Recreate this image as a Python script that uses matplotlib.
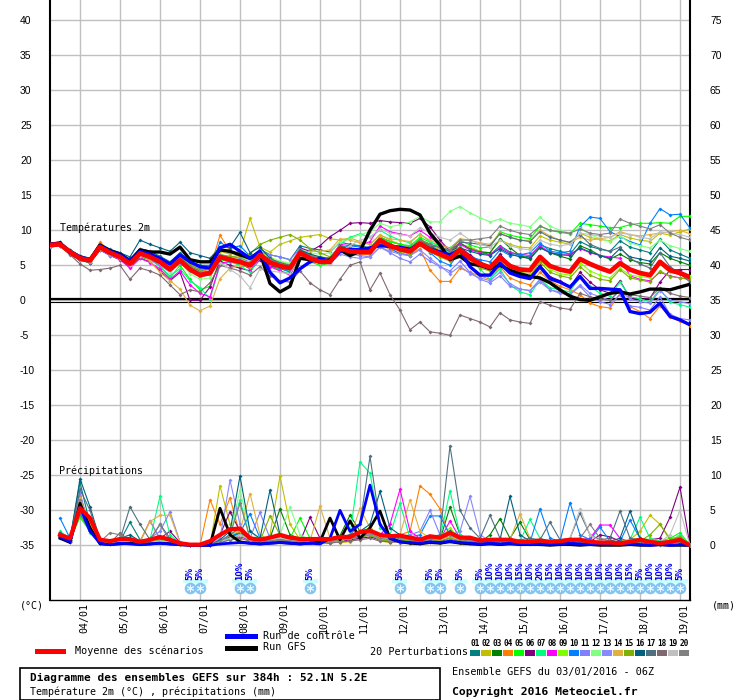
import matplotlib
matplotlib.use('Agg')
import matplotlib.pyplot as plt
from matplotlib.patches import Rectangle
from matplotlib.transforms import ScaledTranslation

W, H = 740, 700
MONO = 'DejaVu Sans Mono'

# ---------------- time axes ----------------
hours_t = list(range(0, 385, 6))      # temperature steps (h after 03/01 06Z)
hours_p = list(range(6, 385, 6))      # precipitation steps
day_hours = [18 + 24 * k for k in range(16)]
day_labels = ['04/01', '05/01', '06/01', '07/01', '08/01', '09/01', '10/01', '11/01',
              '12/01', '13/01', '14/01', '15/01', '16/01', '17/01', '18/01', '19/01']

left_ticks = [-35, -30, -25, -20, -15, -10, -5, 0, 5, 10, 15, 20, 25, 30, 35, 40]
right_labels = ['0', '5', '10', '15', '20', '25', '30', '35', '40', '45', '50', '55', '60', '65', '70', '75']
precip_offset = -35

member_colors = ['#008080', '#c0c000', '#008000', '#ff8000', '#00ff00', '#800080', '#00ff80',
                 '#ff00ff', '#80ff00', '#0080ff', '#8080ff', '#80ff80', '#8888ff', '#e0b040',
                 '#80b000', '#006080', '#507080', '#806870', '#c0c0c0', '#808080']

# ---------------- temperature (°C) ----------------
temp_mean = [7.9, 8.0, 6.9, 6.0, 5.7, 7.6, 6.8, 6.2,
             5.2, 6.7, 6.2, 5.5, 4.4, 5.7, 4.4, 3.6,
             3.9, 6.2, 5.8, 5.5, 5.0, 6.5, 5.4, 4.9,
             4.6, 6.8, 6.0, 5.5, 5.5, 7.4, 7.0, 6.9,
             6.9, 8.6, 7.8, 7.3, 7.0, 8.1, 7.2, 6.6,
             6.0, 7.2, 6.0, 5.2, 4.7, 6.1, 4.9, 4.4,
             4.3, 6.2, 4.9, 4.4, 4.1, 5.9, 5.2, 4.6,
             4.1, 5.3, 4.4, 3.9, 3.6, 5.5, 4.3, 3.9, 3.3]
temp_control = [8.0, 8.1, 7.0, 6.2, 5.8, 7.8, 7.0, 6.5,
                5.6, 7.0, 6.6, 6.0, 5.2, 6.5, 5.5, 4.8,
                4.6, 7.5, 8.0, 7.0, 6.0, 7.0, 4.0, 2.5,
                3.2, 4.5, 5.5, 6.0, 5.5, 7.0, 7.3, 7.2,
                7.5, 7.8, 7.7, 7.6, 7.3, 8.1, 7.3, 6.9,
                6.5, 7.2, 4.8, 3.6, 3.6, 5.3, 3.9, 3.4,
                3.1, 4.8, 3.1, 2.6, 1.9, 3.4, 1.7, 1.7,
                1.6, 1.5, -1.6, -1.9, -1.7, -0.4, -2.3, -2.8, -3.5]
temp_gfs = [8.0, 8.2, 6.8, 6.0, 5.8, 7.9, 7.1, 6.6,
            5.6, 7.2, 6.9, 6.9, 6.6, 7.6, 5.8, 5.5,
            5.5, 7.2, 7.0, 6.5, 6.0, 6.8, 2.4, 1.2,
            2.0, 6.0, 5.8, 5.5, 5.8, 7.2, 6.4, 7.0,
            10.0, 12.3, 12.8, 13.0, 12.9, 12.2, 9.6, 7.9,
            5.8, 6.3, 5.2, 5.0, 4.5, 5.0, 4.3, 3.8,
            3.4, 3.2, 2.5, 1.5, 0.6, 0.1, 0.0, 0.5,
            1.0, 1.2, 0.9, 1.2, 1.6, 1.6, 1.5, 1.9, 2.3]

temp_m01 = [8.2, 8.3, 7.2, 6.3, 6.0, 8.0, 7.3, 6.8, 5.9, 7.4, 7.0, 6.3, 5.5, 6.8, 5.6, 5.0,
            5.0, 7.2, 6.8, 6.9, 6.0, 7.3, 6.5, 6.2, 5.8, 7.8, 7.4, 7.2, 6.9, 8.3, 8.0, 7.8,
            7.5, 9.0, 8.4, 8.0, 7.6, 8.7, 8.0, 7.5, 7.0, 8.1, 7.5, 7.0, 6.5, 7.8, 6.9, 6.4,
            6.2, 7.9, 7.4, 7.0, 6.6, 8.4, 7.7, 7.3, 7.0, 8.5, 7.6, 7.2, 6.8, 8.7, 7.2, 6.6, 6.0]
temp_m02 = [7.8, 8.0, 7.0, 6.1, 5.6, 7.9, 7.0, 6.4, 5.4, 6.9, 6.5, 5.9, 5.0, 6.4, 5.2, 4.6,
            4.8, 7.0, 6.6, 6.9, 11.7, 7.6, 6.9, 8.0, 8.5, 9.0, 9.2, 9.4, 8.8, 8.6, 8.9, 8.4,
            8.0, 9.4, 8.6, 8.0, 7.5, 8.8, 7.9, 7.2, 6.8, 8.0, 7.6, 7.0, 6.8, 8.6, 8.0, 7.6,
            7.5, 9.2, 8.6, 8.3, 8.0, 9.6, 9.0, 8.7, 8.5, 9.4, 8.9, 8.6, 8.4, 9.6, 9.3, 9.8, 10.2]
temp_m03 = [7.7, 7.9, 6.6, 5.8, 5.4, 7.2, 6.5, 6.0, 5.0, 6.2, 5.8, 5.2, 4.6, 5.9, 4.8, 4.2,
            4.6, 6.0, 5.6, 5.0, 4.7, 6.3, 5.2, 4.5, 4.2, 6.6, 5.8, 5.5, 5.6, 7.9, 7.3, 7.2,
            7.4, 8.8, 8.0, 7.6, 7.4, 8.6, 7.8, 7.0, 6.5, 8.2, 7.3, 6.9, 6.8, 8.8, 7.5, 6.4,
            5.9, 7.6, 6.8, 6.3, 5.9, 7.8, 7.2, 6.4, 5.9, 6.6, 5.8, 5.4, 5.2, 6.8, 6.0, 5.5, 5.0]
temp_m04 = [8.1, 8.2, 7.0, 6.2, 5.9, 8.3, 7.0, 6.2, 5.1, 7.3, 7.0, 6.0, 4.6, 6.5, 4.8, 4.0,
            4.5, 9.3, 7.0, 6.2, 5.3, 7.0, 6.0, 5.4, 5.0, 6.8, 6.4, 6.0, 5.8, 7.2, 6.9, 6.6,
            6.5, 8.2, 7.2, 6.8, 6.4, 7.4, 4.3, 2.7, 2.7, 4.6, 4.0, 3.5, 3.0, 4.8, 3.2, 2.6,
            2.2, 4.0, 2.8, 2.0, 1.5, 0.8, -0.4, -0.9, -1.1, 1.0, -0.9, -1.6, -2.6, -0.8, -2.4, -3.0, -3.6]
temp_m05 = [8.0, 7.9, 6.7, 5.8, 5.3, 7.4, 6.6, 5.9, 4.8, 6.3, 5.8, 4.9, 3.2, 5.0, 3.0, 1.5,
            2.0, 5.8, 5.5, 5.3, 4.5, 6.0, 5.0, 4.2, 3.8, 6.4, 5.5, 5.0, 5.3, 7.0, 6.8, 6.8,
            7.2, 9.0, 8.4, 8.0, 7.8, 9.0, 8.3, 7.8, 7.5, 8.6, 7.9, 7.5, 7.6, 9.8, 9.3, 9.0,
            8.8, 10.6, 10.0, 9.7, 9.5, 11.0, 10.8, 10.6, 10.4, 10.4, 10.8, 11.0, 11.0, 11.1, 11.0, 12.0, 12.0]
temp_m06 = [7.6, 7.8, 6.6, 5.7, 5.4, 7.2, 6.4, 5.8, 4.8, 6.0, 5.5, 4.2, 2.8, 4.0, 0.0, 0.0,
            1.9, 5.6, 5.0, 4.6, 4.2, 5.8, 5.0, 4.5, 4.4, 7.5, 7.0, 7.8, 9.1, 10.0, 11.0, 11.1,
            11.0, 11.4, 11.2, 11.1, 11.0, 11.7, 10.5, 8.6, 7.0, 7.6, 6.5, 5.5, 4.8, 6.6, 5.0, 4.0,
            3.4, 5.0, 3.4, 2.8, 1.9, 4.0, 2.6, 1.5, 1.0, 2.8, 0.3, 0.1, 0.3, 2.6, 4.3, 4.4, 4.4]
temp_m07 = [7.9, 8.1, 6.8, 5.9, 5.5, 7.5, 6.6, 6.0, 4.9, 6.4, 5.9, 4.8, 3.5, 4.5, 2.8, 1.8,
            0.2, 5.0, 5.5, 5.0, 4.0, 6.0, 5.2, 4.5, 4.2, 6.6, 5.8, 5.2, 5.8, 8.0, 9.0, 9.5,
            9.0, 10.0, 9.2, 8.6, 8.2, 9.5, 8.4, 7.6, 6.8, 7.6, 6.0, 4.5, 3.0, 4.5, 2.2, 1.2,
            0.8, 3.0, 1.8, 1.5, 1.2, 3.5, 2.0, 1.0, 0.6, 2.6, 0.5, 0.2, -0.2, 1.6, -0.3, -0.6, -1.0]
temp_m08 = [7.8, 8.0, 6.9, 6.0, 5.6, 7.3, 6.5, 5.8, 4.6, 6.0, 5.4, 4.5, 3.0, 4.2, 2.2, 1.0,
            0.5, 5.2, 5.6, 5.3, 4.5, 6.0, 4.8, 4.2, 3.6, 6.2, 6.0, 5.8, 6.0, 8.0, 7.8, 7.8,
            8.4, 10.6, 9.8, 9.5, 9.2, 10.0, 9.0, 8.0, 7.4, 8.0, 7.2, 6.8, 6.5, 7.6, 6.8, 6.6,
            6.4, 7.8, 6.8, 6.6, 6.6, 7.4, 6.8, 6.4, 6.2, 6.0, 3.5, 3.0, 2.8, 4.0, 3.5, 3.2, 3.0]
temp_m09 = [7.9, 8.0, 6.8, 6.0, 5.7, 7.8, 7.0, 6.4, 5.4, 6.6, 6.0, 5.4, 4.2, 5.8, 4.5, 3.8,
            4.0, 6.6, 6.2, 6.0, 5.8, 7.0, 6.2, 5.5, 5.2, 7.0, 6.6, 6.2, 6.0, 7.8, 7.2, 7.0,
            7.0, 8.6, 7.8, 7.4, 7.0, 8.4, 7.4, 6.8, 6.2, 7.4, 6.0, 5.2, 4.6, 6.2, 4.6, 4.0,
            3.8, 5.8, 4.4, 3.8, 3.6, 5.4, 4.2, 3.6, 3.2, 4.6, 3.6, 3.4, 3.2, 5.2, 4.0, 3.7, 3.5]
temp_m10 = [8.0, 8.2, 7.1, 6.2, 6.0, 7.8, 7.0, 6.6, 5.6, 7.2, 6.8, 6.0, 5.0, 6.4, 5.4, 4.8,
            4.5, 8.3, 7.4, 7.8, 6.3, 6.8, 5.7, 4.6, 4.0, 7.2, 6.4, 5.8, 5.6, 7.4, 7.8, 7.6,
            7.4, 8.4, 7.5, 6.6, 6.4, 8.0, 6.8, 5.6, 5.0, 7.0, 6.2, 5.8, 5.5, 7.2, 6.4, 6.5,
            6.8, 8.2, 7.0, 6.8, 7.0, 10.5, 11.9, 11.7, 9.8, 9.1, 8.4, 7.9, 11.0, 13.1, 12.2, 12.3, 10.3]
temp_m11 = [7.7, 7.9, 6.7, 5.8, 5.6, 7.2, 6.4, 5.9, 5.0, 6.4, 5.8, 5.0, 4.0, 5.4, 4.2, 3.4,
            3.6, 6.5, 6.3, 6.0, 5.5, 6.9, 6.5, 6.2, 5.8, 7.4, 6.5, 6.0, 5.8, 7.0, 6.6, 6.4,
            6.2, 7.6, 6.8, 6.0, 5.5, 6.6, 5.6, 4.8, 4.2, 5.6, 4.0, 3.0, 2.5, 3.5, 2.0, 1.6,
            1.4, 3.0, 1.5, 1.0, 0.8, 2.0, 0.5, -0.2, -0.6, 0.8, -0.8, -1.0, -1.4, 0.5, -2.0, -2.6, -2.8]
temp_m12 = [7.8, 8.0, 6.8, 5.9, 5.5, 7.4, 6.6, 6.0, 5.0, 6.4, 6.0, 5.3, 4.0, 5.5, 3.8, 3.0,
            3.2, 6.2, 6.0, 5.8, 5.4, 6.8, 6.0, 5.6, 5.3, 7.2, 6.8, 6.6, 6.8, 8.4, 8.8, 9.4,
            9.8, 11.0, 10.5, 10.8, 11.2, 12.0, 11.2, 11.2, 12.7, 13.4, 12.5, 11.8, 11.2, 11.6, 11.0, 10.8,
            10.5, 11.9, 10.6, 10.0, 9.6, 10.4, 9.4, 8.8, 8.4, 9.2, 8.2, 7.8, 7.5, 8.6, 7.8, 7.4, 7.0]
temp_m13 = [7.6, 7.8, 6.6, 5.8, 5.5, 7.5, 6.8, 6.0, 5.2, 6.6, 6.0, 5.6, 4.8, 6.2, 5.0, 4.4,
            4.6, 6.2, 5.8, 5.4, 5.0, 6.6, 5.6, 5.0, 4.5, 6.8, 6.0, 5.4, 5.2, 6.6, 6.2, 6.0,
            6.2, 7.6, 7.0, 6.6, 6.4, 7.2, 6.0, 4.9, 3.8, 4.9, 3.8, 3.2, 2.8, 4.0, 2.4, 1.6,
            1.4, 2.6, 1.5, 1.2, 0.9, 2.2, 1.0, 0.5, 0.0, 1.4, 0.2, -0.2, -0.4, 1.4, 0.0, -0.2, -0.5]
temp_m14 = [7.9, 8.0, 6.8, 5.9, 5.6, 7.8, 6.8, 6.0, 5.0, 6.6, 5.6, 4.0, 2.8, 1.6, -0.7, -1.5,
            -0.8, 3.1, 4.6, 5.0, 4.8, 6.4, 5.6, 5.0, 4.8, 6.9, 7.0, 7.0, 7.2, 8.8, 8.6, 8.2,
            8.0, 9.2, 8.8, 8.6, 8.4, 9.4, 8.6, 8.0, 7.4, 8.8, 8.6, 8.2, 8.0, 9.6, 9.0, 8.6,
            8.5, 10.0, 9.2, 8.6, 8.2, 9.0, 8.6, 8.8, 9.0, 9.8, 9.4, 9.2, 9.4, 9.6, 9.8, 10.0, 9.5]
temp_m15 = [8.0, 8.1, 7.0, 6.2, 5.8, 7.7, 6.9, 6.3, 5.3, 6.9, 6.4, 5.8, 4.8, 6.2, 5.0, 4.4,
            4.6, 6.4, 6.2, 6.4, 6.6, 8.0, 8.6, 9.0, 9.4, 8.6, 7.4, 6.8, 6.2, 7.6, 7.2, 7.0,
            7.0, 8.6, 7.6, 7.0, 6.6, 7.9, 6.9, 6.2, 5.6, 6.7, 5.4, 4.6, 4.2, 5.6, 4.2, 3.6,
            3.4, 5.5, 4.0, 3.5, 3.2, 4.8, 3.6, 3.0, 2.8, 4.4, 3.2, 2.9, 2.6, 4.2, 3.4, 3.2, 3.0]
temp_m16 = [8.1, 8.3, 7.2, 6.4, 6.0, 7.9, 7.2, 6.8, 6.2, 8.6, 8.0, 7.5, 7.0, 8.3, 6.8, 6.4,
            6.0, 7.6, 7.6, 9.7, 6.8, 7.6, 6.0, 5.2, 4.8, 7.2, 6.6, 6.2, 6.0, 7.7, 7.4, 7.3,
            7.0, 8.4, 7.8, 7.4, 7.0, 8.2, 7.6, 7.0, 6.6, 7.5, 7.0, 6.6, 6.4, 7.4, 6.6, 6.2,
            6.0, 7.5, 6.8, 6.5, 6.4, 7.5, 6.9, 6.4, 6.0, 7.4, 6.2, 5.9, 5.6, 7.5, 6.3, 6.0, 5.6]
temp_m17 = [7.9, 8.0, 6.9, 6.1, 5.8, 7.6, 6.8, 6.3, 5.3, 6.8, 6.3, 5.6, 4.5, 6.0, 4.7, 3.9,
            4.0, 6.3, 5.9, 5.6, 5.2, 6.6, 5.9, 5.4, 5.0, 7.0, 6.2, 5.8, 5.6, 7.4, 7.0, 6.8,
            6.9, 8.4, 7.6, 7.2, 7.0, 8.4, 7.8, 7.6, 7.0, 8.3, 8.2, 8.0, 7.8, 9.5, 9.0, 8.6,
            8.4, 9.8, 9.0, 8.6, 8.3, 9.4, 8.0, 7.4, 7.0, 7.6, 6.0, 5.2, 4.6, 6.8, 4.8, 3.8, 2.6]
temp_m18 = [7.7, 7.8, 6.5, 5.2, 4.3, 4.4, 4.6, 5.0, 3.0, 4.6, 4.2, 3.6, 2.2, 0.8, 1.5, 1.2,
            2.5, 5.0, 4.6, 4.2, 3.6, 4.8, 3.5, 2.8, 2.6, 4.2, 2.5, 1.5, 0.8, 3.0, 5.0, 5.5,
            1.5, 3.9, 0.8, -1.4, -4.2, -3.1, -4.5, -4.7, -5.0, -2.1, -2.6, -3.1, -3.8, -1.8, -2.8, -3.1,
            -3.3, -0.2, -0.7, -1.1, -1.3, 1.0, 0.5, 0.2, 0.0, 1.5, 0.8, 0.6, 0.4, 1.8, 1.0, 0.6, 0.4]
temp_m19 = [7.8, 7.9, 6.8, 6.0, 5.7, 7.5, 6.7, 6.1, 5.1, 6.4, 6.0, 5.4, 4.4, 5.8, 4.6, 4.0,
            4.2, 5.4, 4.4, 3.5, 1.8, 4.5, 4.2, 4.0, 3.8, 6.2, 5.8, 5.4, 5.2, 7.0, 7.8, 8.6,
            9.0, 10.2, 9.6, 9.4, 9.2, 10.4, 9.6, 9.0, 8.6, 9.6, 8.6, 8.0, 7.6, 8.6, 7.8, 7.4,
            7.2, 8.6, 8.0, 7.8, 8.0, 9.6, 9.4, 9.2, 9.0, 9.6, 9.4, 9.0, 8.8, 9.8, 9.6, 9.4, 9.0]
temp_m20 = [8.0, 8.1, 6.9, 6.0, 5.8, 7.7, 6.9, 6.4, 5.4, 7.0, 6.5, 5.8, 4.8, 6.2, 4.8, 4.0,
            4.2, 6.4, 6.0, 5.7, 5.3, 6.7, 5.8, 5.2, 4.8, 6.9, 6.4, 6.0, 6.0, 7.6, 7.0, 6.8,
            6.8, 8.4, 7.8, 7.4, 7.2, 8.6, 8.0, 7.6, 7.2, 8.6, 8.6, 8.8, 9.0, 10.6, 10.0, 9.6,
            9.4, 10.6, 10.0, 9.8, 9.6, 10.2, 9.6, 9.4, 9.6, 11.6, 11.0, 10.6, 10.2, 10.8, 9.6, 9.0, 8.6]

# ---------------- precipitation (mm per 6 h) ----------------
prec_mean = [1.5, 1.0, 5.3, 3.9, 0.8, 0.6, 0.9, 0.9,
             0.5, 0.8, 1.2, 0.8, 0.3, 0.1, 0.1, 0.6,
             1.5, 2.3, 2.4, 1.0, 0.8, 1.1, 1.5, 1.1,
             0.9, 0.9, 0.9, 0.9, 1.2, 1.2, 1.9, 2.1,
             1.5, 1.3, 1.4, 1.1, 0.8, 1.3, 1.1, 1.8,
             1.1, 1.1, 0.7, 0.8, 0.8, 0.8, 0.5, 0.5,
             0.7, 0.5, 0.6, 0.8, 0.8, 0.5, 0.4, 0.4,
             0.3, 0.5, 0.8, 0.5, 0.3, 0.5, 0.8, 0.0]
prec_control = [1.2, 0.5, 5.5, 2.0, 0.3, 0.1, 0.3, 0.2, 0.1, 0.2, 0.3, 0.2, 0.1, 0.0, 0.0, 0.0,
                0.2, 0.3, 0.4, 0.3, 0.2, 0.3, 0.4, 0.3, 0.2, 0.3, 0.2, 1.0, 5.0, 2.0, 3.0, 8.6,
                3.0, 1.0, 0.5, 0.4, 0.3, 0.5, 0.4, 0.6, 0.4, 0.3, 0.2, 0.3, 0.2, 0.3, 0.2, 0.1,
                0.2, 0.1, 0.2, 0.3, 0.2, 0.1, 0.2, 0.1, 0.1, 0.2, 0.1, 0.0, 0.1, 0.0, 0.1, 0.0]
prec_gfs = [1.0, 0.4, 6.0, 2.5, 0.2, 0.1, 0.2, 0.3, 0.1, 0.2, 0.3, 0.2, 0.1, 0.0, 0.0, 0.0,
            5.3, 1.5, 0.5, 0.3, 0.2, 0.3, 0.4, 0.3, 0.2, 0.3, 0.5, 3.9, 0.8, 3.5, 1.0, 2.5,
            4.9, 1.0, 0.5, 0.3, 0.2, 0.4, 0.3, 0.5, 0.3, 0.2, 0.1, 0.2, 0.1, 0.2, 0.1, 0.1,
            0.1, 0.0, 0.1, 0.1, 0.0, 0.1, 0.0, 0.0, 0.0, 0.1, 0.0, 0.0, 0.1, 0.0, 0.0, 0.0]

prec_m01 = [1.5, 0.8, 9.0, 3.0, 0.5, 0.3, 0.6, 3.3, 0.8, 0.5, 0.6, 0.4, 0.2, 0.0, 0.0, 0.0,
            0.5, 1.2, 2.0, 0.6, 0.4, 0.8, 1.0, 0.5, 0.3, 0.6, 0.4, 0.3, 0.8, 1.0, 1.5, 2.0,
            1.0, 0.8, 1.2, 0.6, 0.4, 1.0, 0.8, 1.5, 0.6, 0.4, 0.3, 0.5, 0.4, 0.6, 0.3, 0.2,
            0.4, 0.2, 0.3, 0.5, 0.6, 0.3, 0.2, 0.2, 0.3, 0.5, 0.4, 0.2, 0.1, 0.3, 0.6, 0.0]
prec_m02 = [1.2, 0.5, 6.0, 2.5, 0.4, 0.2, 0.5, 0.8, 0.5, 0.8, 0.6, 0.3, 0.1, 0.0, 0.0, 0.0,
            8.5, 3.0, 1.5, 0.8, 0.5, 1.5, 9.9, 3.0, 0.8, 0.5, 0.6, 0.8, 0.4, 0.5, 1.0, 1.5,
            0.6, 0.4, 0.8, 0.5, 1.0, 0.6, 0.4, 1.2, 0.8, 0.5, 0.3, 0.4, 0.6, 0.5, 0.4, 0.3,
            0.3, 0.4, 0.2, 0.6, 0.4, 0.3, 0.5, 0.4, 0.6, 0.8, 2.0, 4.3, 3.0, 1.0, 1.2, 0.0]
prec_m03 = [1.8, 1.0, 5.5, 2.0, 0.6, 0.4, 0.8, 0.6, 0.3, 0.4, 0.8, 0.5, 0.2, 0.0, 0.0, 0.0,
            0.4, 1.0, 1.8, 1.2, 0.8, 1.0, 5.2, 1.5, 1.0, 0.6, 0.8, 1.0, 1.4, 4.3, 2.0, 1.8,
            1.0, 1.5, 0.8, 1.2, 0.6, 1.0, 0.8, 5.5, 1.5, 0.8, 0.4, 1.5, 3.8, 1.0, 3.3, 0.8,
            0.5, 0.4, 0.6, 0.8, 0.5, 0.3, 0.4, 0.2, 0.3, 0.5, 0.6, 0.4, 0.3, 0.5, 1.0, 0.0]
prec_m04 = [1.4, 0.6, 7.0, 2.8, 0.5, 0.3, 0.6, 1.0, 0.6, 3.5, 0.8, 0.4, 0.2, 0.0, 0.0, 6.5,
            3.0, 6.8, 1.5, 1.0, 0.6, 1.0, 0.8, 0.5, 0.4, 0.6, 0.5, 0.4, 0.8, 1.0, 1.2, 1.6,
            0.8, 1.0, 1.5, 2.0, 8.5, 7.3, 5.2, 1.0, 0.6, 0.4, 0.3, 0.5, 0.4, 0.6, 0.5, 0.3,
            0.4, 0.3, 0.2, 0.4, 0.5, 0.3, 0.2, 0.3, 0.2, 0.4, 0.5, 0.3, 0.2, 0.3, 0.6, 0.0]
prec_m05 = [1.6, 0.8, 4.0, 2.0, 0.4, 0.2, 0.5, 0.4, 0.2, 0.6, 0.8, 0.5, 0.2, 0.0, 0.0, 0.0,
            0.3, 0.8, 1.5, 0.5, 0.4, 0.6, 0.8, 1.0, 3.9, 1.0, 0.6, 0.5, 0.8, 1.0, 1.5, 2.5,
            1.2, 0.8, 1.0, 0.6, 0.5, 1.0, 1.2, 2.0, 0.8, 0.6, 0.4, 0.5, 0.6, 0.8, 0.5, 0.4,
            0.6, 0.5, 0.3, 0.4, 0.6, 0.5, 0.4, 0.3, 0.5, 0.6, 1.0, 0.8, 0.6, 1.0, 1.8, 0.0]
prec_m06 = [1.3, 0.6, 5.0, 2.2, 0.6, 0.4, 0.5, 0.8, 0.5, 0.4, 1.0, 2.0, 0.4, 0.0, 0.0, 0.0,
            1.5, 4.8, 2.0, 0.8, 0.5, 0.6, 0.8, 0.6, 0.5, 4.0, 1.0, 0.6, 0.5, 0.8, 1.0, 1.2,
            0.8, 0.5, 0.6, 0.4, 0.3, 0.5, 0.6, 1.0, 0.5, 0.4, 0.3, 0.5, 0.4, 0.8, 0.5, 0.3,
            0.4, 0.3, 0.5, 0.6, 0.8, 0.5, 1.5, 1.2, 0.6, 0.4, 0.5, 0.8, 1.0, 4.0, 8.3, 0.0]
prec_m07 = [2.0, 1.0, 4.5, 1.8, 0.5, 0.3, 0.6, 0.5, 0.4, 0.8, 7.0, 1.5, 0.3, 0.0, 0.0, 0.0,
            0.6, 1.5, 6.5, 1.0, 0.5, 0.6, 0.8, 0.5, 0.4, 0.6, 0.8, 0.5, 1.0, 1.5, 11.9, 10.3,
            2.5, 1.5, 6.0, 1.0, 0.6, 0.8, 1.0, 7.8, 1.5, 0.8, 0.4, 0.6, 0.8, 0.5, 0.6, 3.7,
            1.0, 0.5, 0.4, 0.3, 0.6, 0.4, 0.5, 0.3, 0.5, 0.8, 4.0, 1.0, 0.6, 0.5, 1.5, 0.0]
prec_m08 = [1.2, 0.5, 4.8, 2.5, 0.4, 0.2, 0.5, 0.6, 0.3, 0.5, 0.6, 0.4, 0.2, 0.0, 0.0, 0.0,
            0.4, 1.0, 1.2, 0.8, 0.5, 0.6, 1.0, 0.8, 0.5, 0.6, 0.5, 0.6, 0.8, 1.0, 1.5, 2.2,
            1.5, 3.0, 8.0, 2.0, 1.0, 1.2, 0.8, 3.5, 1.0, 0.6, 0.4, 0.5, 0.6, 0.4, 0.5, 0.3,
            0.4, 0.3, 0.5, 0.6, 0.8, 1.0, 2.9, 2.9, 1.0, 0.5, 0.4, 0.6, 0.4, 0.5, 0.8, 0.0]
prec_m09 = [1.5, 0.7, 5.8, 2.2, 0.5, 0.3, 0.6, 0.7, 0.4, 0.6, 0.8, 0.6, 0.3, 0.0, 0.0, 0.0,
            0.5, 1.5, 2.5, 1.0, 0.6, 0.8, 1.0, 0.8, 0.6, 0.8, 0.6, 0.5, 0.6, 1.2, 2.0, 2.5,
            1.0, 0.8, 1.5, 1.0, 0.6, 0.8, 1.0, 2.5, 0.8, 0.6, 0.5, 0.6, 0.8, 0.6, 0.4, 0.5,
            0.3, 0.4, 0.3, 0.5, 0.6, 0.4, 0.3, 0.4, 0.5, 0.8, 1.0, 0.8, 0.5, 0.6, 1.2, 0.0]
prec_m10 = [3.9, 1.0, 6.2, 2.6, 0.6, 0.4, 0.8, 0.8, 0.5, 0.6, 0.5, 0.4, 0.2, 0.0, 0.0, 0.0,
            0.6, 1.2, 1.8, 4.5, 1.0, 0.8, 0.6, 0.5, 0.4, 0.5, 0.6, 0.8, 1.0, 1.2, 1.5, 2.0,
            1.0, 0.8, 1.0, 1.2, 1.5, 4.2, 4.2, 1.5, 0.8, 0.5, 0.6, 0.4, 0.5, 0.8, 0.6, 0.4,
            5.2, 1.0, 0.6, 6.1, 1.5, 0.8, 2.6, 0.6, 0.5, 3.6, 1.0, 0.6, 0.4, 0.5, 0.8, 0.0]
prec_m11 = [1.1, 0.5, 7.5, 2.4, 0.4, 0.3, 0.6, 0.5, 0.3, 1.0, 2.0, 4.8, 0.5, 0.0, 0.0, 0.0,
            0.5, 1.0, 1.5, 1.0, 4.7, 1.0, 0.8, 0.6, 0.5, 0.4, 0.6, 0.5, 0.8, 1.0, 1.2, 1.5,
            0.8, 1.0, 1.2, 1.5, 2.0, 5.0, 1.5, 1.0, 0.6, 0.8, 0.5, 0.4, 0.6, 0.5, 0.4, 0.3,
            0.4, 0.5, 0.3, 0.4, 0.5, 0.6, 0.4, 0.3, 0.4, 0.5, 0.6, 0.4, 0.3, 0.5, 0.6, 0.0]
prec_m12 = [1.4, 0.6, 5.2, 2.0, 0.5, 0.3, 0.5, 0.6, 0.4, 0.5, 0.6, 0.5, 0.2, 0.0, 0.0, 0.0,
            0.5, 1.5, 7.9, 2.0, 0.8, 1.0, 1.5, 5.5, 1.5, 0.8, 0.6, 0.8, 1.0, 1.2, 1.5, 2.0,
            1.0, 0.8, 1.0, 0.8, 0.6, 0.8, 1.0, 2.0, 1.0, 0.6, 0.5, 0.6, 0.5, 0.4, 0.6, 0.5,
            0.4, 0.5, 0.6, 0.4, 0.5, 0.4, 0.3, 0.4, 0.5, 0.6, 0.8, 0.6, 0.4, 0.6, 1.0, 0.0]
prec_m13 = [1.3, 0.6, 6.5, 2.5, 0.5, 0.3, 0.5, 0.5, 0.4, 3.5, 1.0, 0.6, 0.3, 0.0, 0.0, 0.0,
            1.0, 9.3, 3.0, 1.0, 0.6, 0.8, 0.8, 0.6, 0.5, 0.6, 0.5, 0.6, 0.8, 1.0, 1.2, 1.6,
            0.8, 0.6, 0.8, 1.0, 0.8, 1.0, 1.2, 1.5, 2.0, 7.0, 1.5, 0.6, 0.5, 0.4, 0.5, 0.4,
            0.3, 0.4, 0.5, 0.3, 0.4, 0.5, 0.3, 0.4, 0.3, 0.4, 0.5, 0.6, 0.4, 0.5, 0.8, 0.0]
prec_m14 = [1.6, 0.8, 6.8, 3.0, 0.6, 0.4, 0.8, 0.8, 0.5, 3.4, 4.3, 4.3, 0.4, 0.0, 0.0, 0.0,
            0.6, 1.5, 2.0, 7.4, 1.5, 0.8, 0.6, 0.5, 0.5, 0.6, 5.6, 1.0, 0.8, 1.0, 5.3, 2.5,
            1.0, 0.8, 1.5, 6.5, 2.0, 1.0, 0.8, 1.2, 0.8, 0.6, 0.5, 0.4, 0.6, 0.8, 4.5, 1.0,
            0.5, 0.4, 0.3, 0.5, 0.6, 0.4, 0.3, 0.5, 0.4, 0.6, 0.8, 0.6, 0.5, 0.6, 1.0, 0.0]
prec_m15 = [1.5, 0.7, 5.5, 2.2, 0.5, 0.3, 0.6, 0.6, 0.4, 0.5, 0.6, 0.5, 0.2, 0.0, 0.0, 0.0,
            0.6, 1.0, 1.5, 0.8, 0.6, 4.2, 1.5, 0.8, 0.6, 0.8, 0.6, 0.5, 0.8, 1.0, 1.2, 1.5,
            0.8, 0.6, 0.8, 0.5, 0.6, 0.8, 0.6, 1.0, 0.6, 0.5, 0.4, 0.5, 0.6, 0.5, 0.4, 0.3,
            0.4, 0.5, 0.3, 0.4, 0.5, 0.3, 0.4, 0.3, 0.4, 0.5, 0.6, 1.5, 3.0, 0.8, 1.2, 0.0]
prec_m16 = [1.8, 0.8, 9.5, 5.5, 0.8, 0.5, 1.0, 1.5, 0.6, 0.8, 1.0, 0.6, 0.3, 0.0, 0.0, 0.0,
            0.8, 2.0, 9.9, 2.0, 1.0, 7.9, 1.5, 1.0, 0.8, 0.6, 0.8, 1.0, 1.2, 1.5, 2.0, 3.0,
            7.7, 2.5, 1.5, 1.0, 0.8, 1.0, 1.2, 2.0, 1.0, 0.8, 0.6, 0.5, 0.8, 7.0, 1.5, 0.6,
            0.5, 0.4, 0.6, 0.5, 0.8, 0.6, 0.5, 0.6, 1.0, 4.9, 1.0, 0.6, 0.5, 0.6, 0.8, 0.0]
prec_m17 = [1.5, 0.8, 8.0, 5.0, 0.6, 0.4, 0.8, 5.5, 3.0, 0.8, 3.0, 1.0, 0.3, 0.0, 0.0, 0.0,
            0.6, 1.5, 2.5, 1.0, 0.8, 1.0, 1.2, 0.8, 0.6, 0.8, 0.6, 0.8, 1.0, 1.5, 3.0, 12.7,
            3.0, 1.5, 1.0, 0.8, 1.0, 1.2, 1.5, 14.2, 5.0, 2.5, 1.0, 4.3, 1.0, 0.6, 0.8, 1.0,
            0.8, 3.3, 0.8, 1.0, 4.6, 1.5, 0.8, 1.0, 4.9, 1.0, 0.8, 0.6, 0.5, 0.6, 0.8, 0.0]
prec_m18 = [1.2, 0.5, 4.5, 2.0, 0.4, 0.3, 1.8, 0.6, 0.4, 0.5, 0.6, 0.4, 0.2, 0.0, 0.0, 0.0,
            0.4, 0.8, 1.0, 0.6, 0.5, 0.6, 0.8, 0.5, 0.4, 0.5, 0.4, 0.3, 0.5, 0.6, 0.8, 1.0,
            0.6, 0.5, 0.4, 0.3, 0.4, 0.5, 0.4, 0.6, 0.4, 0.3, 0.2, 0.3, 0.4, 0.3, 0.2, 0.3,
            0.2, 0.3, 0.2, 0.3, 0.4, 0.3, 0.2, 0.3, 0.2, 0.3, 0.4, 0.3, 0.2, 0.3, 0.4, 0.0]
prec_m19 = [1.4, 0.6, 5.0, 2.2, 0.5, 0.3, 0.6, 0.6, 0.4, 0.5, 0.6, 0.5, 0.2, 0.0, 0.0, 0.0,
            0.5, 1.0, 1.5, 0.8, 0.6, 0.8, 1.0, 0.8, 0.6, 0.5, 0.6, 0.8, 1.0, 1.2, 1.5, 1.8,
            1.0, 0.8, 1.0, 0.8, 0.6, 0.8, 1.0, 1.5, 0.8, 0.6, 0.5, 0.4, 0.6, 0.5, 0.4, 0.6,
            0.5, 0.4, 0.5, 1.0, 5.2, 1.5, 0.6, 0.5, 0.4, 0.6, 0.8, 0.6, 0.5, 1.5, 5.0, 0.0]
prec_m20 = [1.6, 0.7, 6.5, 2.5, 0.5, 1.8, 1.5, 0.8, 0.5, 0.8, 3.0, 0.6, 0.3, 0.0, 0.0, 0.0,
            0.6, 1.5, 6.0, 1.0, 0.8, 0.6, 0.8, 0.6, 0.5, 0.6, 0.8, 0.6, 0.8, 1.0, 1.2, 1.8,
            1.0, 0.8, 1.0, 0.8, 0.6, 0.8, 1.0, 1.5, 0.8, 0.6, 0.5, 0.6, 0.8, 0.6, 0.5, 0.4,
            0.5, 0.6, 0.4, 0.8, 1.0, 3.0, 1.0, 0.6, 0.5, 0.6, 0.8, 0.6, 0.5, 0.6, 1.0, 0.0]

# ---------------- snow probability ----------------
snow_hours = [84, 90, 114, 120, 156, 210, 228, 234, 246,
              258, 264, 270, 276, 282, 288, 294, 300, 306, 312, 318,
              324, 330, 336, 342, 348, 354, 360, 366, 372, 378]
snow_pct = [5, 5, 10, 5, 5, 5, 5, 5, 5,
            5, 10, 10, 10, 15, 10, 20, 15, 10, 10, 10,
            10, 10, 10, 10, 15, 5, 10, 10, 10, 5]

temp_members = [temp_m01, temp_m02, temp_m03, temp_m04, temp_m05, temp_m06, temp_m07,
                temp_m08, temp_m09, temp_m10, temp_m11, temp_m12, temp_m13, temp_m14,
                temp_m15, temp_m16, temp_m17, temp_m18, temp_m19, temp_m20]
prec_members = [prec_m01, prec_m02, prec_m03, prec_m04, prec_m05, prec_m06, prec_m07,
                prec_m08, prec_m09, prec_m10, prec_m11, prec_m12, prec_m13, prec_m14,
                prec_m15, prec_m16, prec_m17, prec_m18, prec_m19, prec_m20]


def shift(vals):
    return [v + precip_offset for v in vals]


fig = plt.figure(figsize=(W / 100, H / 100), dpi=100)
fig.patch.set_facecolor('white')
ax = fig.add_axes([50 / W, 100 / H, 640 / W, 600 / H])
ax.set_xlim(0, 384)
ax.set_ylim(-42.81, 42.9)

# grid and ticks
ax.set_axisbelow(True)
ax.set_yticks(left_ticks)
ax.set_yticklabels([str(v) for v in left_ticks], fontsize=7.5, family='Liberation Sans')
for lbl in ax.get_yticklabels():
    lbl.set_horizontalalignment('left')
ax.tick_params(axis='y', length=0, pad=21.6)
ax.set_xticks(day_hours)
ax.set_xticklabels(day_labels, rotation=90, fontsize=7.2, family=MONO)
ax.tick_params(axis='x', length=0, pad=2)
shift_right = ScaledTranslation(4 / 100, 0, fig.dpi_scale_trans)
for lbl in ax.get_xticklabels():
    lbl.set_transform(lbl.get_transform() + shift_right)
ax.grid(True, color='#c0c0c0', lw=1.0)

# zero double line
ax.axhline(0.14, color='black', lw=1.6, zorder=2)
ax.axhline(-0.24, color='black', lw=0.8, zorder=2)

for sp in ['left', 'right']:
    ax.spines[sp].set_linewidth(1.5)
ax.spines['top'].set_visible(False)
ax.spines['bottom'].set_linewidth(1.0)

# right axis
ax2 = ax.twinx()
ax2.set_ylim(ax.get_ylim())
ax2.set_yticks(left_ticks)
ax2.set_yticklabels(right_labels, fontsize=7.5, family='Liberation Sans')
ax2.tick_params(axis='y', length=0, pad=14.4)
for sp in ax2.spines.values():
    sp.set_visible(False)

# members
for vals, col in zip(temp_members, member_colors):
    ax.plot(hours_t, vals, color=col, lw=0.8, marker='D', ms=2.0, mew=0, zorder=3)
for vals, col in zip(prec_members, member_colors):
    ax.plot(hours_p, shift(vals), color=col, lw=0.8, marker='D', ms=2.0, mew=0, zorder=3)

# GFS, control, mean
ax.plot(hours_t, temp_gfs, color='black', lw=2.4, zorder=4)
ax.plot(hours_p, shift(prec_gfs), color='black', lw=2.0, zorder=4)
ax.plot(hours_t, temp_control, color='#0000ff', lw=2.4, zorder=5)
ax.plot(hours_p, shift(prec_control), color='#0000ff', lw=2.0, zorder=5)
ax.plot(hours_t, temp_mean, color='#ff0000', lw=3.4, zorder=6)
ax.plot(hours_p, shift(prec_mean), color='#ff0000', lw=3.0, zorder=6)

# section labels
ax.text(6, 10.35, 'Températures 2m', family=MONO, fontsize=7.2, va='center', ha='left', zorder=7)
ax.text(5.4, -24.3, 'Précipitations', family=MONO, fontsize=7.2, va='center', ha='left', zorder=7)

# snow icons
snow_y = -41.1
for h in snow_hours:
    ax.add_patch(Rectangle((h - 4.5, -40.45), 9, 0.65, color='#c8ffff', lw=0, zorder=3))
ax.scatter(snow_hours, [snow_y] * len(snow_hours), s=70, color='#84c4ee', zorder=4, lw=0)
ax.scatter(snow_hours, [snow_y] * len(snow_hours), s=22, marker=(6, 2, 0), color='#e8f6ff',
           lw=0.7, zorder=5)
for h, p in zip(snow_hours, snow_pct):
    ax.text(h, -39.95, f'{p}%', rotation=90, color='#0000ff', fontsize=5.6, fontweight='bold',
            family='DejaVu Sans', ha='center', va='bottom', zorder=6)

# unit labels
fig.text(20 / W, 1 - 606 / H, '(°C)', family=MONO, fontsize=7.2, va='center', ha='left')
fig.text(712 / W, 1 - 606 / H, '(mm)', family=MONO, fontsize=7.2, va='center', ha='left')

# legend
fig.add_artist(Rectangle((225 / W, 1 - 638.5 / H), 33 / W, 5 / H, color='#0000ff', lw=0,
                         transform=fig.transFigure))
fig.text(263 / W, 1 - 636 / H, 'Run de contrôle', family=MONO, fontsize=7.3, va='center')
fig.add_artist(Rectangle((225 / W, 1 - 650.5 / H), 33 / W, 5 / H, color='black', lw=0,
                         transform=fig.transFigure))
fig.text(263 / W, 1 - 647 / H, 'Run GFS', family=MONO, fontsize=7.3, va='center')
fig.add_artist(Rectangle((35 / W, 1 - 653.5 / H), 31 / W, 5 / H, color='#ff0000', lw=0,
                         transform=fig.transFigure))
fig.text(75 / W, 1 - 651 / H, 'Moyenne des scénarios', family=MONO, fontsize=7.3, va='center')
fig.text(370 / W, 1 - 652 / H, '20 Perturbations', family=MONO, fontsize=7.3, va='center')
for k, col in enumerate(member_colors):
    x0 = 470 + 11 * k
    fig.add_artist(Rectangle((x0 / W, 1 - 656 / H), 10 / W, 6 / H, color=col, lw=0,
                             transform=fig.transFigure))
    fig.text((x0 + 5) / W, 1 - 643.5 / H, f'{k + 1:02d}', family=MONO, fontsize=5.6,
             fontweight='bold', ha='center', va='center')

# title box
fig.add_artist(Rectangle((20 / W, 1 - 699.5 / H), 420 / W, 31.5 / H, fill=False, lw=1.2,
                         edgecolor='black', transform=fig.transFigure))
fig.text(30 / W, 1 - 678 / H, 'Diagramme des ensembles GEFS sur 384h : 52.1N 5.2E',
         family=MONO, fontsize=8.0, fontweight='bold', va='center')
fig.text(30 / W, 1 - 692 / H, 'Température 2m (°C) , précipitations (mm)',
         family=MONO, fontsize=7.2, va='center')
fig.text(452 / W, 1 - 672 / H, 'Ensemble GEFS du 03/01/2016 - 06Z',
         family=MONO, fontsize=7.25, va='center')
fig.text(452 / W, 1 - 692 / H, 'Copyright 2016 Meteociel.fr',
         family=MONO, fontsize=8.2, fontweight='bold', va='center')

fig.savefig('out.png', dpi=100, facecolor='white')
